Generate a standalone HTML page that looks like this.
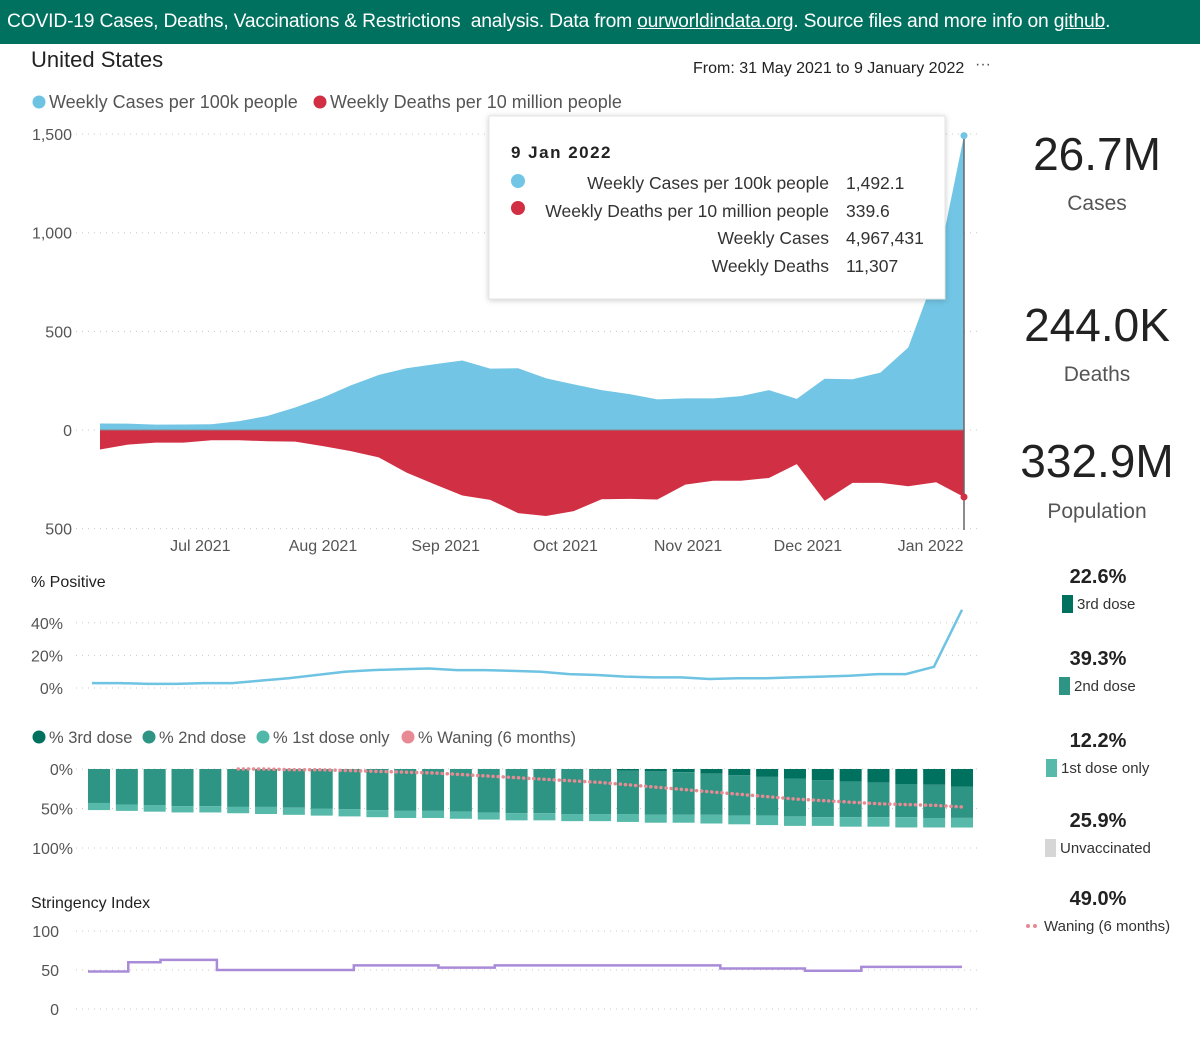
<!DOCTYPE html>
<html><head><meta charset="utf-8">
<style>
body{margin:0;width:1200px;height:1048px;background:#fff;font-family:"Liberation Sans",sans-serif;overflow:hidden;position:relative}
.hdr{position:absolute;left:0;top:0;width:1200px;height:44px;background:#00705f;color:#fff;font-size:19.3px;line-height:43px;padding-left:7px;box-sizing:border-box;white-space:nowrap;letter-spacing:-0.2px}
.hdr u{cursor:pointer}
svg{position:absolute;left:0;top:0}
text{font-family:"Liberation Sans",sans-serif}
</style></head><body>
<div class="hdr">COVID-19 Cases, Deaths, Vaccinations &amp; Restrictions&nbsp; analysis. Data from <u>ourworldindata.org</u>. Source files and more info on <u>github</u>.</div>
<svg id="s" width="1200" height="1048"></svg>
<script>
const cases=[33,32,27,28,29,45,71,114,165,226,279,313,333,352,311,313,262,231,202,182,155,160,160,172,202,158,260,257,291,418,800,1492.1];
const deaths=[99,74,64,64,52,52,57,59,82,107,139,216,275,332,354,421,436,411,351,349,352,277,257,257,243,173,359,268,268,285,265,339.6];
const positive=[3,3,2.5,2.5,3,3,4.5,6,8,10,11,11.5,12,11,11,10.5,10,8.5,8,7,6.5,6.5,5.5,6,6,6.5,7,7.5,8.5,8.5,13,48];
const firstDose=[52,53,54,55,55,56,57,58,59,60,61,62,62,63,64,65,65,66,66,67,68,68,69,70,71,72,72,73,73,74,74,74.1];
const secondDose=[43,45,46,47,47,48,48,49,50,51,52,53,53,54,55,56,56,57,57,57,58,58,58,59,59,60,61,61,61,61,62,61.9];
const thirdDose=[0,0,0,0,0,0,0,0,0,0,0,0,0,0,0,0,0,0,1,2,3,4,6,8,10,12,14,16,17,19,20,22.6];
const waning=[null,null,null,null,null,0,0,1,1,2,3,4,5,7,9,11,13,15,17,20,23,26,29,32,35,38,40,42,44,45,46,48];
const stringDays=[0,10,18,32,66,87,101,157,178,192];
const stringVals=[48,60,63,50,56,53,56,52,49,54];
const stringEnd=217;
const monthLabels=["Jul 2021","Aug 2021","Sep 2021","Oct 2021","Nov 2021","Dec 2021","Jan 2022"];
const monthPos=[3.6,8.0,12.4,16.7,21.1,25.4,29.8];
const mainTicks=[1500,1000,500,0,-500];
const posTicks=[0,20,40];
const vacTicks=[0,50,100];
const strTicks=[0,50,100];

const S=document.getElementById('s');const NS='http://www.w3.org/2000/svg';
function el(t,a,txt){const e=document.createElementNS(NS,t);for(const k in a)e.setAttribute(k,a[k]);if(txt!==undefined)e.textContent=txt;S.appendChild(e);return e;}
const N=cases.length;
const X=i=>100+i*(864/(N-1));
const Ym=v=>430-v*0.1973;
function grid(y,x1,x2){const g=el('line',{x1:x1,x2:x2,y1:y,y2:y,stroke:'#c8c8c8','stroke-dasharray':'1 5','stroke-width':1});}
let t=el('text',{x:31,y:67,'font-size':22,fill:'#222'},'United States');
t=el('text',{x:693,y:73,'font-size':16,fill:'#222'},'From: 31 May 2021 to 9 January 2022');
t=el('text',{x:975,y:69,'font-size':16,fill:'#555'},'···');
el('circle',{cx:39,cy:102,r:6.5,fill:'#6ec3e3'});
t=el('text',{x:49,y:108,'font-size':18,fill:'#555'},'Weekly Cases per 100k people');
el('circle',{cx:320,cy:102,r:6.5,fill:'#d32f43'});
t=el('text',{x:330,y:108,'font-size':18,fill:'#555'},'Weekly Deaths per 10 million people');
mainTicks.forEach(v=>{const y=Ym(v);grid(y,76,980);const l=el('text',{x:72,y:y+6,'font-size':16,fill:'#555','text-anchor':'end'},Math.abs(v).toLocaleString('en-US'));});
let d='M'+X(0)+','+Ym(0);cases.forEach((v,i)=>d+=' L'+X(i)+','+Ym(v));d+=' L'+X(N-1)+','+Ym(0)+'Z';
let p=el('path',{d:d,fill:'#72c5e4'});
d='M'+X(0)+','+Ym(0);deaths.forEach((v,i)=>d+=' L'+X(i)+','+Ym(-v));d+=' L'+X(N-1)+','+Ym(0)+'Z';
p=el('path',{d:d,fill:'#d13044'});
el('line',{x1:X(0),x2:X(N-1),y1:Ym(0),y2:Ym(0),stroke:'#888','stroke-width':1});
let h=el('line',{x1:X(N-1),x2:X(N-1),y1:Ym(cases[N-1]),y2:530,stroke:'#666','stroke-width':1.5});
el('circle',{cx:X(N-1),cy:Ym(cases[N-1]),r:3.5,fill:'#72c5e4'});
el('circle',{cx:X(N-1),cy:Ym(-deaths[N-1]),r:3.5,fill:'#d13044'});
monthLabels.forEach((m,i)=>{const l=el('text',{x:X(monthPos[i]),y:551,'font-size':16,fill:'#555','text-anchor':'middle'},m);});
const tg=el('g',{});
el('rect',{x:489,y:116,width:456,height:183,fill:'#fff',stroke:'#e6e6e6',style:'filter:drop-shadow(0 1px 3px rgba(0,0,0,0.2))'});
el('text',{x:511,y:158,'font-size':17,'font-weight':'bold',fill:'#222','letter-spacing':'1.5'},'9 Jan 2022');
el('circle',{cx:518,cy:181,r:7,fill:'#72c5e4'});el('circle',{cx:518,cy:208,r:7,fill:'#d13044'});
[['Weekly Cases per 100k people','1,492.1',189],['Weekly Deaths per 10 million people','339.6',217],['Weekly Cases','4,967,431',244],['Weekly Deaths','11,307',272]].forEach(r=>{el('text',{x:829,y:r[2],'font-size':17.5,fill:'#333','text-anchor':'end'},r[0]);el('text',{x:846,y:r[2],'font-size':17.5,fill:'#333'},r[1]);});
[['26.7M','Cases',170,210],['244.0K','Deaths',341,381],['332.9M','Population',477,518]].forEach(k=>{let a=el('text',{x:1097,y:k[2],'font-size':46,fill:'#222','text-anchor':'middle'},k[0]);el('text',{x:1097,y:k[3],'font-size':21,fill:'#555','text-anchor':'middle'},k[1]);});
t=el('text',{x:31,y:587,'font-size':16,fill:'#222'},'% Positive');
const Yp=v=>688-v*1.63;const Xp=i=>92+i*(870/(N-1));
posTicks.forEach(v=>{grid(Yp(v),76,980);el('text',{x:63,y:Yp(v)+6,'font-size':16,fill:'#555','text-anchor':'end'},v+'%');});
p=el('polyline',{points:positive.map((v,i)=>Xp(i)+','+Yp(v)).join(' '),fill:'none',stroke:'#6ec3e3','stroke-width':2.5});
[['#00705f','% 3rd dose',31],['#2e9483','% 2nd dose',141],['#4fb8a8','% 1st dose only',255],['#e88a93','% Waning (6 months)',400]].forEach(l=>{el('circle',{cx:l[2]+8,cy:737,r:6.5,fill:l[0]});let a=el('text',{x:l[2]+18,y:743,'font-size':16.5,fill:'#555'},l[1]);});
const Yv=v=>769+v*0.79;const Xv=i=>99+i*(863/(N-1));
vacTicks.forEach(v=>{grid(Yv(v),76,980);el('text',{x:73,y:Yv(v)+6,'font-size':16,fill:'#555','text-anchor':'end'},v+'%');});
for(let i=0;i<N;i++){const x=Xv(i)-11;
 let r=el('rect',{x:x,y:Yv(0),width:22,height:thirdDose[i]*0.79,fill:'#00705f'});
 r=el('rect',{x:x,y:Yv(thirdDose[i]),width:22,height:(secondDose[i]-thirdDose[i])*0.79,fill:'#2e9483'});
 r=el('rect',{x:x,y:Yv(secondDose[i]),width:22,height:(firstDose[i]-secondDose[i])*0.79,fill:'#56b9a9'});}
const wp=[];waning.forEach((v,i)=>{if(v!==null)wp.push(Xv(i)+','+Yv(v));});
p=el('polyline',{points:wp.join(' '),fill:'none',stroke:'#e88a93','stroke-width':3.5,'stroke-dasharray':'0.1 5','stroke-linecap':'round'});
[['22.6%','3rd dose','#00705f',583,1062],['39.3%','2nd dose','#2e9483',665,1059],['12.2%','1st dose only','#56b9a9',747,1046],['25.9%','Unvaccinated','#d6d6d6',827,1045]].forEach(k=>{el('text',{x:1098,y:k[3],'font-size':20,'font-weight':'bold',fill:'#222','text-anchor':'middle'},k[0]);el('rect',{x:k[4],y:k[3]+12,width:11,height:18,fill:k[2]});let a=el('text',{x:k[4]+15,y:k[3]+26,'font-size':15,fill:'#333'},k[1]);});
el('text',{x:1098,y:905,'font-size':20,'font-weight':'bold',fill:'#222','text-anchor':'middle'},'49.0%');
el('circle',{cx:1028,cy:926,r:2,fill:'#e88a93'});el('circle',{cx:1035,cy:926,r:2,fill:'#e88a93'});
el('text',{x:1044,y:931,'font-size':15,fill:'#333'},'Waning (6 months)');
t=el('text',{x:31,y:908,'font-size':16,fill:'#222'},'Stringency Index');
const Ys=v=>1009-v*0.78;const Xs=dd=>88+dd*(874/stringEnd);
strTicks.forEach(v=>{grid(Ys(v),76,980);el('text',{x:59,y:Ys(v)+6,'font-size':16,fill:'#555','text-anchor':'end'},v);});
let sp=[];stringDays.forEach((dd,i)=>{const nx=i+1<stringDays.length?stringDays[i+1]:stringEnd;sp.push(Xs(dd)+','+Ys(stringVals[i]));sp.push(Xs(nx)+','+Ys(stringVals[i]));});
p=el('polyline',{points:sp.join(' '),fill:'none',stroke:'#a98bd8','stroke-width':2.5});
</script>
</body></html>
